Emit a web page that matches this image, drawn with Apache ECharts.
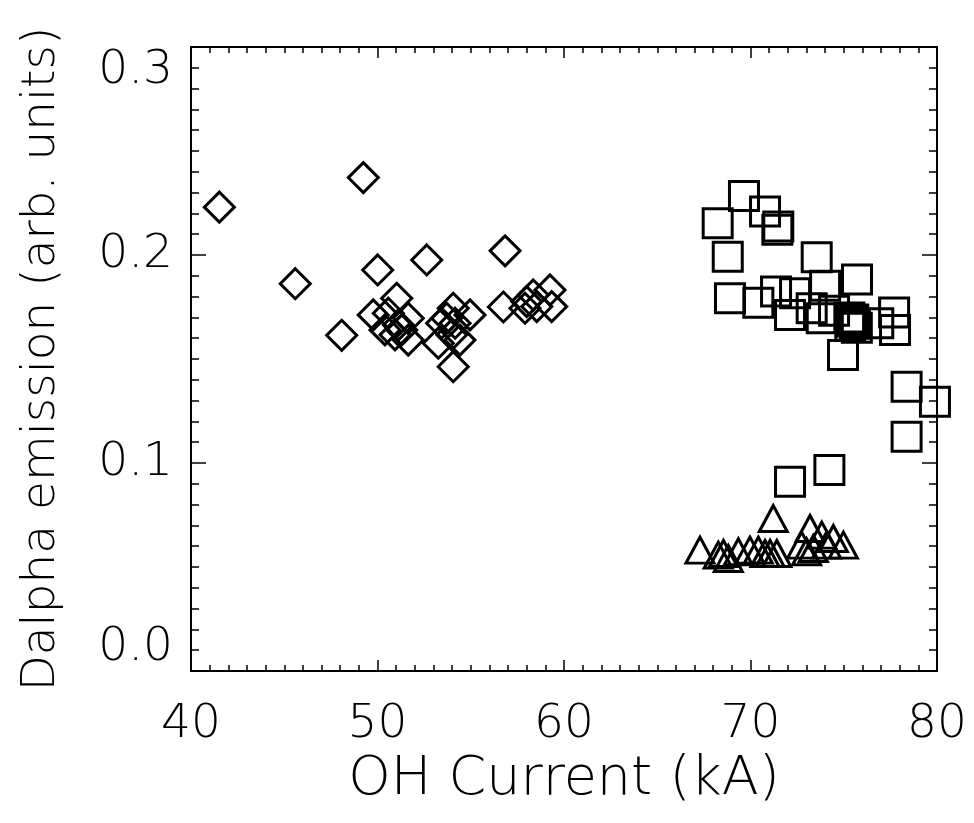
<!DOCTYPE html>
<html>
<head>
<meta charset="utf-8">
<script src="https://cdn.jsdelivr.net/npm/echarts@6/dist/echarts.min.js"></script>
<style>
  html, body { margin: 0; padding: 0; background: #fff; }
  #chart { width: 974px; height: 823px; }
</style>
</head>
<body>
<div id="chart"></div>
<script>
// diamonds (low OH current group)
const diamondX = [41.52, 49.24, 45.59, 50.01, 48.08, 49.77, 52.64, 56.84, 51.03, 50.58,
  51.65, 51.12, 50.94, 51.65, 50.40, 51.30, 54.06, 54.96, 53.44, 54.16,
  53.26, 54.42, 53.98, 54.06, 53.71, 56.75, 59.25, 58.35, 58.00, 59.34,
  58.54, 57.91];
const diamondY = [0.2230, 0.2372, 0.1862, 0.1928, 0.1614, 0.1712, 0.1976, 0.2020, 0.1792, 0.1720,
  0.1696, 0.1664, 0.1616, 0.1591, 0.1640, 0.1640, 0.1744, 0.1712, 0.1672, 0.1672,
  0.1576, 0.1591, 0.1616, 0.1463, 0.1696, 0.1750, 0.1832, 0.1808, 0.1776, 0.1752,
  0.1752, 0.1744];

// squares
const squareX = [69.65, 68.24, 70.78, 71.49, 71.44, 68.78, 73.55, 68.90, 70.42, 71.37,
  72.12, 72.39, 73.28, 74.00, 75.71, 74.48, 75.51, 75.35, 75.60, 75.45,
  75.70, 75.30, 76.85, 77.70, 77.75, 74.96, 78.37, 79.89, 78.37, 72.12,
  74.23, 73.82];
const squareY = [0.2284, 0.2153, 0.2209, 0.2137, 0.2121, 0.1992, 0.1989, 0.1792, 0.1771, 0.1824,
  0.1712, 0.1816, 0.1744, 0.1852, 0.1882, 0.1732, 0.1690, 0.1660, 0.1670, 0.1680,
  0.1650, 0.1700, 0.1672, 0.1724, 0.1640, 0.1519, 0.1367, 0.1295, 0.1126, 0.0910,
  0.0966, 0.1696];

// triangles
const triX = [71.22, 67.29, 68.55, 68.27, 69.35, 69.97, 70.42, 70.78, 71.05, 71.41,
  73.19, 72.74, 73.82, 74.44, 73.37, 74.08, 74.98, 73.01, 68.81];
const triY = [0.0733, 0.0581, 0.0565, 0.0557, 0.0573, 0.0581, 0.0581, 0.0565, 0.0565, 0.0565,
  0.0685, 0.0605, 0.0653, 0.0637, 0.0589, 0.0605, 0.0605, 0.0573, 0.0541];

const xTicks = [40, 50, 60, 70, 80];
const yTicks = [0.0, 0.1, 0.2, 0.3];

function zip(xs, ys) {
  return xs.map(function (x, i) { return [x, ys[i]]; });
}

const FONT = "DejaVu Sans";
const axisLine = { show: true, onZero: false, lineStyle: { color: "#000", width: 2 } };

function xAx(pos, labels) {
  return {
    type: "value", position: pos,
    min: xTicks[0], max: xTicks[xTicks.length - 1], interval: 10,
    axisLine: axisLine,
    axisTick: { inside: true, length: 11, lineStyle: { color: "#000", width: 1.5 } },
    minorTick: { show: true, splitNumber: 10, length: 6, lineStyle: { color: "#000", width: 1.5 } },
    splitLine: { show: false },
    axisLabel: { show: labels, fontFamily: FONT, fontWeight: 200, fontSize: 47, color: "#000", margin: 30 },
    name: labels ? "OH Current (kA)" : "",
    nameLocation: "middle", nameGap: 74,
    nameTextStyle: { fontFamily: FONT, fontWeight: 200, fontSize: 54, color: "#000" }
  };
}

function yAx(pos, labels) {
  return {
    type: "value", position: pos,
    min: yTicks[0], max: yTicks[yTicks.length - 1], interval: 0.1,
    axisLine: axisLine,
    axisTick: { inside: true, length: 15, lineStyle: { color: "#000", width: 1.5 } },
    minorTick: { show: true, splitNumber: 10, length: 8, lineStyle: { color: "#000", width: 1.5 } },
    splitLine: { show: false },
    axisLabel: {
      show: labels, fontFamily: FONT, fontWeight: 200, fontSize: 47, color: "#000", margin: 18,
      verticalAlignMinLabel: "bottom", verticalAlignMaxLabel: "top",
      formatter: function (v) { return v.toFixed(1); }
    },
    name: labels ? "Dalpha emission (arb. units)" : "",
    nameLocation: "middle", nameGap: 126,
    nameTextStyle: { fontFamily: FONT, fontWeight: 200, fontSize: 47, color: "#000" }
  };
}

const markStyle = { color: "rgba(0,0,0,0)", borderColor: "#000", borderWidth: 3, opacity: 1 };

const option = {
  animation: false,
  backgroundColor: "#fff",
  grid: { left: 191, right: 37, top: 47, bottom: 152 },
  xAxis: [xAx("bottom", true), xAx("top", false)],
  yAxis: [yAx("left", true), yAx("right", false)],
  series: [
    { type: "scatter", symbol: "diamond", symbolSize: 30, itemStyle: markStyle, data: zip(diamondX, diamondY) },
    { type: "scatter", symbol: "rect", symbolSize: 29, itemStyle: markStyle, data: zip(squareX, squareY) },
    { type: "scatter", symbol: "triangle", symbolSize: [28, 26], itemStyle: markStyle, data: zip(triX, triY) }
  ]
};

const myChart = echarts.init(document.getElementById("chart"));
myChart.setOption(option);
</script>
</body>
</html>
